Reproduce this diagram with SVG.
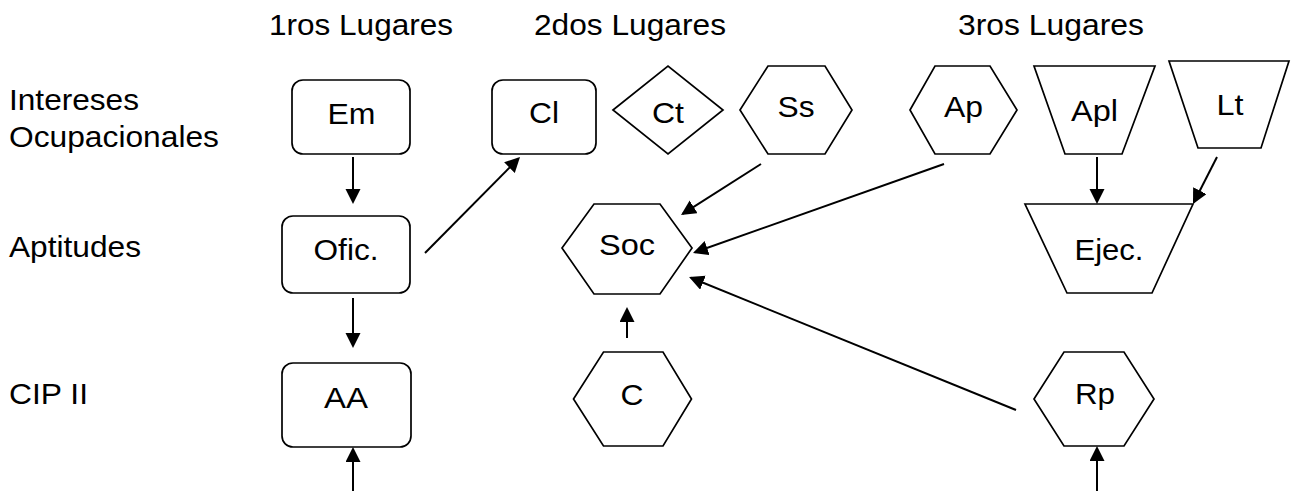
<svg xmlns="http://www.w3.org/2000/svg" width="1291" height="491" viewBox="0 0 1291 491">
<style>
text{font-family:"Liberation Sans",Arial,sans-serif;font-size:30px;fill:#000}
.lbl{text-anchor:start}
.nt{text-anchor:middle}
.shape{fill:#fff;stroke:#000;stroke-width:1.7;stroke-linejoin:miter}
.conn{stroke:#000;stroke-width:2;fill:none;marker-end:url(#arr)}
</style>
<defs>
<marker id="arr" markerUnits="userSpaceOnUse" markerWidth="16" markerHeight="16" refX="13" refY="7.5" orient="auto">
<path d="M0,0 L15,7.5 L0,15 z" fill="#000"/>
</marker>
</defs>
<rect width="1291" height="491" fill="#fff"/>
<g id="labels">
<text class="lbl" x="269" y="35" textLength="184" lengthAdjust="spacingAndGlyphs">1ros Lugares</text>
<text class="lbl" x="534" y="35" textLength="192" lengthAdjust="spacingAndGlyphs">2dos Lugares</text>
<text class="lbl" x="958" y="35" textLength="186" lengthAdjust="spacingAndGlyphs">3ros Lugares</text>
<text class="lbl" x="9" y="110" textLength="130" lengthAdjust="spacingAndGlyphs">Intereses</text>
<text class="lbl" x="9" y="147" textLength="210" lengthAdjust="spacingAndGlyphs">Ocupacionales</text>
<text class="lbl" x="9" y="257" textLength="132" lengthAdjust="spacingAndGlyphs">Aptitudes</text>
<text class="lbl" x="9" y="404" textLength="79" lengthAdjust="spacingAndGlyphs">CIP II</text>
</g>
<g id="connectors">
<line class="conn" x1="353" y1="157" x2="353" y2="202"/>
<line class="conn" x1="425" y1="253" x2="518.6" y2="158.4"/>
<line class="conn" x1="761" y1="164" x2="682.7" y2="213.9"/>
<line class="conn" x1="944" y1="164" x2="694.9" y2="252.3"/>
<line class="conn" x1="1016" y1="410" x2="690.9" y2="277.8"/>
<line class="conn" x1="627" y1="338" x2="627" y2="309"/>
<line class="conn" x1="1097" y1="157" x2="1097" y2="202"/>
<line class="conn" x1="1217" y1="157" x2="1193.9" y2="202.2"/>
<line class="conn" x1="353" y1="298" x2="353" y2="346"/>
<line class="conn" x1="353" y1="491" x2="353" y2="449"/>
<line class="conn" x1="1097" y1="491" x2="1097" y2="448"/>
</g>
<g id="node-Em">
<rect class="shape" x="292" y="80" width="118" height="74" rx="11"/>
<text class="nt" x="351.5" y="124" textLength="48" lengthAdjust="spacingAndGlyphs">Em</text>
</g>
<g id="node-Cl">
<rect class="shape" x="492" y="80" width="104" height="74" rx="11"/>
<text class="nt" x="544" y="123" textLength="30" lengthAdjust="spacingAndGlyphs">Cl</text>
</g>
<g id="node-Ct">
<polygon class="shape" points="613,110 668,66 723,110 668,154"/>
<text class="nt" x="668" y="123" textLength="32" lengthAdjust="spacingAndGlyphs">Ct</text>
</g>
<g id="node-Ss">
<polygon class="shape" points="740,110 768,66 825,66 852,110 825,154 768,154"/>
<text class="nt" x="796" y="117" textLength="37" lengthAdjust="spacingAndGlyphs">Ss</text>
</g>
<g id="node-Ap">
<polygon class="shape" points="910,110 935,66 990,66 1017,110 990,154 935,154"/>
<text class="nt" x="963.5" y="117" textLength="39" lengthAdjust="spacingAndGlyphs">Ap</text>
</g>
<g id="node-Apl">
<polygon class="shape" points="1034,66 1155,66 1122,154 1065,154"/>
<text class="nt" x="1094.5" y="121" textLength="47" lengthAdjust="spacingAndGlyphs">Apl</text>
</g>
<g id="node-Lt">
<polygon class="shape" points="1169,61 1289,61 1261,148 1198,148"/>
<text class="nt" x="1230" y="115" textLength="27" lengthAdjust="spacingAndGlyphs">Lt</text>
</g>
<g id="node-Ofic">
<rect class="shape" x="282" y="216" width="128" height="77" rx="11"/>
<text class="nt" x="346" y="260" textLength="65" lengthAdjust="spacingAndGlyphs">Ofic.</text>
</g>
<g id="node-Soc">
<polygon class="shape" points="562,248 594,204 660,204 692,248 660,294 594,294"/>
<text class="nt" x="627" y="255" textLength="56" lengthAdjust="spacingAndGlyphs">Soc</text>
</g>
<g id="node-Ejec">
<polygon class="shape" points="1025,204 1193,204 1152,293 1067,293"/>
<text class="nt" x="1109" y="260" textLength="69" lengthAdjust="spacingAndGlyphs">Ejec.</text>
</g>
<g id="node-AA">
<rect class="shape" x="282" y="363" width="129" height="84" rx="11"/>
<text class="nt" x="346" y="408" textLength="44" lengthAdjust="spacingAndGlyphs">AA</text>
</g>
<g id="node-C">
<polygon class="shape" points="573.5,399 603.5,352 663,352 691.5,399 663,446 603.5,446"/>
<text class="nt" x="632" y="405" textLength="23" lengthAdjust="spacingAndGlyphs">C</text>
</g>
<g id="node-Rp">
<polygon class="shape" points="1034,399 1064,352 1124,352 1154,399 1124,446 1064,446"/>
<text class="nt" x="1095" y="404" textLength="40" lengthAdjust="spacingAndGlyphs">Rp</text>
</g>
</svg>
